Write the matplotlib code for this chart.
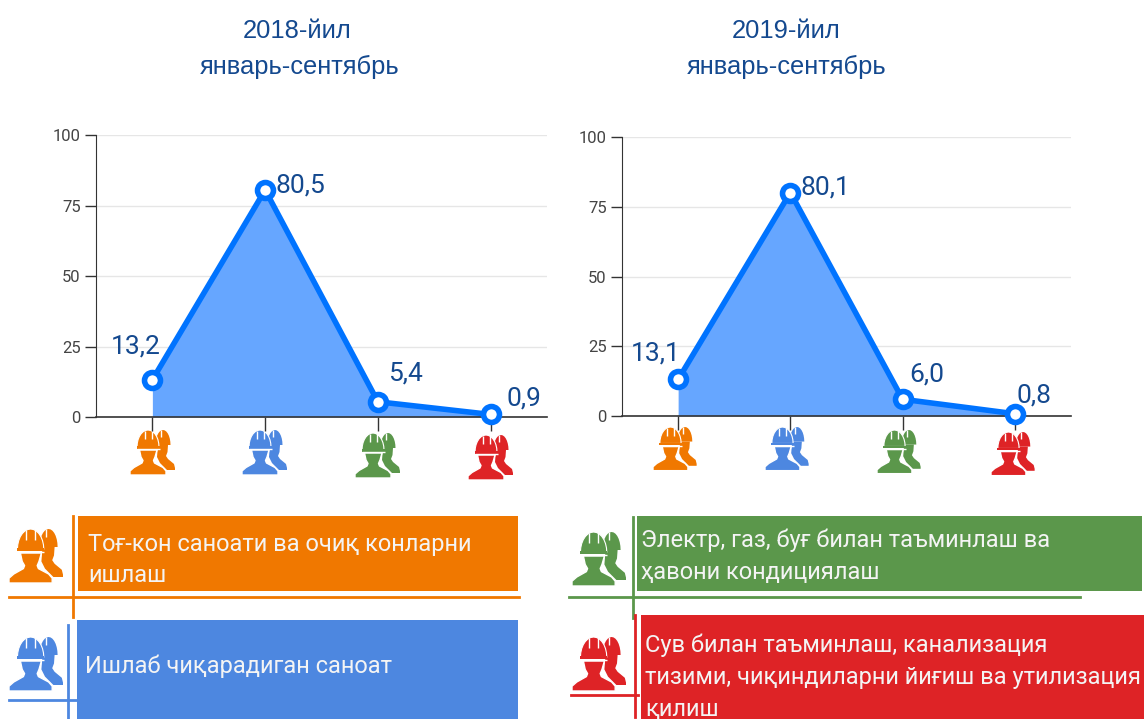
import numpy as np
import matplotlib
matplotlib.use('Agg')
import matplotlib.pyplot as plt
from matplotlib.patches import Polygon, Rectangle

W = 1144
H = 719

# data
values_2018 = [13.2, 80.5, 5.4, 0.9]
values_2019 = [13.1, 80.1, 6.0, 0.8]
labels_2018 = ['13,2', '80,5', '5,4', '0,9']
labels_2019 = ['13,1', '80,1', '6,0', '0,8']
yticks = [0, 25, 50, 75, 100]
title_years = ['2018-йил', '2019-йил']
title_period = 'январь-сентябрь'
colors = ['#f07800', '#4d87e0', '#5b974b', '#de2326']
legend_texts = ['Тоғ-кон саноати ва очиқ конларни\nишлаш',
                'Ишлаб чиқарадиган саноат',
                'Электр, газ, буғ билан таъминлаш ва\nҳавони кондициялаш',
                'Сув билан таъминлаш, канализация\nтизими, чиқиндиларни йиғиш ва утилизация\nқилиш']

plt.rcParams['font.family'] = ['Roboto', 'DejaVu Sans']
TITLE_COL = '#14498f'
LINE_COL = '#0073ff'
FILL_COL = '#66a6ff'

fig = plt.figure(figsize=(W / 100, H / 100), dpi=100)

# overlay in pixel coordinates, for titles, icons and legend
bg = fig.add_axes([0, 0, 1, 1])
bg.set_xlim(0, W)
bg.set_ylim(H, 0)
bg.axis('off')


def make_chart(left, right, top, bottom, vals, labs, offsets):
    ax = fig.add_axes([left / W, 1 - bottom / H, (right - left) / W, (bottom - top) / H])
    x = np.arange(len(vals))
    ax.set_xlim(-0.5, 3.5)
    ax.set_ylim(0, 100)
    ax.fill_between(x, vals, 0, color=FILL_COL, lw=0, zorder=2)
    ax.plot(x, vals, color=LINE_COL, lw=4, marker='o', ms=11.5, mfc='white', mec=LINE_COL,
            mew=4, clip_on=False, zorder=5)
    for i in x:
        ax.annotate(labs[i], (i, vals[i]), xytext=offsets[i], textcoords='offset pixels',
                    fontsize=19, color=TITLE_COL, ha='center', va='center', zorder=6)
    ax.set_yticks(yticks)
    ax.set_xticks(x)
    ax.set_xticklabels([])
    ax.tick_params(axis='y', length=8, width=1, color='#333333', labelsize=12,
                   labelcolor='#444444', pad=3)
    ax.tick_params(axis='x', length=10, width=1, color='#333333')
    ax.grid(axis='y', color='#e6e6e6', lw=1)
    ax.set_axisbelow(True)
    for s in ['top', 'right']:
        ax.spines[s].set_visible(False)
    ax.spines['left'].set_color('#333333')
    ax.spines['bottom'].set_color('#333333')
    ax.spines['bottom'].set_linewidth(1.2)
    ax.patch.set_alpha(0)
    return ax


def dome(cx, base, rx, ry):
    t = np.linspace(np.pi, 0, 15)
    return np.column_stack([cx + rx * np.cos(t), base - ry * np.sin(t)])


def draw_icon(px, py, color, s=1.0):
    # two workers in hard hats, (px, py) is the top left corner, about 44 px square
    def poly(pts, z, **kw):
        pts = np.asarray(pts, dtype=float) * s + [px, py]
        bg.add_patch(Polygon(pts, closed=True, fc=color, zorder=z, **kw))

    def slit(x0, y0, x1, y1, z):
        bg.plot([px + x0 * s, px + x1 * s], [py + y0 * s, py + y1 * s], color='white', lw=1,
                zorder=z, solid_capstyle='butt')

    # worker behind
    poly(dome(33, 15, 7.5, 15), 3, ec='none')
    poly([(28, 15), (38, 15), (37.5, 22), (36, 26), (38, 29), (44, 34), (45, 38), (45, 40), (37, 40),
          (30, 33), (27, 27)], 3, ec='none')
    slit(31, 0, 31, 7, 3.5)
    # worker in front, white outline keeps both apart
    poly(dome(18, 17, 11, 17), 5, ec='white', lw=0.8)
    poly([(6.5, 16), (29.5, 16), (29.5, 18.5), (6.5, 18.5)], 5, ec='none')
    slit(14.5, 1, 14.5, 9, 6)
    slit(21.5, 1, 21.5, 9, 6)
    slit(6.5, 19.3, 29.5, 19.3, 6)
    poly([(9.5, 20), (27, 20), (25, 27), (23.5, 30.5), (24.5, 33), (33, 37.5), (36, 41), (36, 45), (0, 45),
          (0, 41), (4, 37.5), (12, 33), (13, 30.5), (11, 27)], 4, ec='white', lw=1, joinstyle='round')


make_chart(96, 547, 135, 417, values_2018, labels_2018,
           [(-17, 33), (35, 4), (28, 28), (33, 16)])
make_chart(622, 1071, 137, 416, values_2019, labels_2019,
           [(-22, 26), (35, 5), (24, 25), (19, 18)])

# titles
for year, yx, px in zip(title_years, [297, 786], [300, 787]):
    bg.text(yx, 31, year, fontsize=18.4, color=TITLE_COL, ha='center', va='center',
            family=['Liberation Sans', 'DejaVu Sans'])
    bg.text(px, 67, title_period, fontsize=18.4, color=TITLE_COL, ha='center', va='center',
            family=['Liberation Sans', 'DejaVu Sans'])

# icons under the charts
for px, py, c in zip([130, 242, 355, 468], [430, 430, 433, 435], colors):
    draw_icon(px, py, c)
for px, py, c in zip([653, 765, 877, 991], [427, 427, 430, 432], colors):
    draw_icon(px, py, c, 0.97)

# legend boxes
boxes = [(78, 516, 518, 591), (77, 620, 518, 719), (637, 516, 1142, 591), (641, 615, 1144, 719)]
text_pos = [(88, 560), (85, 666), (641, 556), (645, 677)]
for (x0, y0, x1, y1), (tx, ty), c, t in zip(boxes, text_pos, colors, legend_texts):
    bg.add_patch(Rectangle((x0, y0), x1 - x0, y1 - y0, fc=c, ec='none', zorder=2))
    bg.text(tx, ty, t, fontsize=17, color='#f4f4f4', ha='left', va='center', linespacing=1.5, zorder=6)

# thin crossing rules beside the legend icons
rules = [(9, 519, 597, 73, 516, 617), (9, 77, 700, 68, 625, 719),
         (569, 1080, 597, 633, 517, 618), (571, 638, 695, 635, 615, 717)]
for (hx0, hx1, hy, vx, vy0, vy1), c in zip(rules, colors):
    bg.plot([hx0, hx1], [hy, hy], color=c, lw=2, zorder=3)
    bg.plot([vx, vx], [vy0, vy1], color=c, lw=2, zorder=3)

for px, py, c in zip([9, 9, 572, 572], [529, 637, 532, 637], colors):
    draw_icon(px, py, c, 1.2)

fig.savefig('out.png', dpi=100)
